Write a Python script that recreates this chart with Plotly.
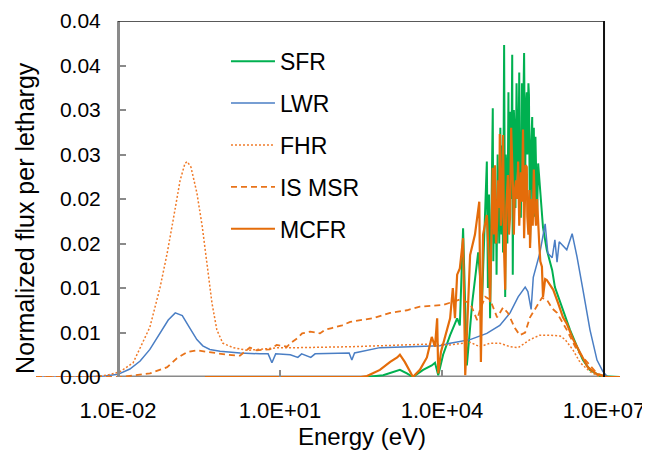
import plotly.graph_objects as go

# log10 of energy (eV) and normalized flux per lethargy
sfr_logE = [-0.39, 2.60, 2.91, 3.22, 3.35, 3.46, 3.65, 3.81, 3.87, 3.93,
            4.02, 4.15, 4.28, 4.33, 4.39, 4.46, 4.56, 4.67, 4.74, 4.83,
            4.85, 4.87, 4.89, 4.92, 4.94, 4.95, 4.97, 4.98, 5.00, 5.01,
            5.03, 5.04, 5.06, 5.08, 5.10, 5.11, 5.13, 5.15, 5.17, 5.18,
            5.20, 5.21, 5.23, 5.24, 5.26, 5.28, 5.30, 5.31, 5.33, 5.35,
            5.36, 5.38, 5.39, 5.41, 5.43, 5.44, 5.46, 5.48, 5.49, 5.51,
            5.52, 5.54, 5.55, 5.57, 5.58, 5.60, 5.61, 5.63, 5.65, 5.67,
            5.68, 5.70, 5.72, 5.73, 5.76, 5.78, 5.81, 5.87, 5.94, 6.04,
            6.09, 6.19, 6.28, 6.37, 6.50, 6.61, 6.74, 6.93, 7.30]
sfr_flux = [0.0000, 0.0000, 0.0002, 0.0008, 0.0004, 0.0000, 0.0008, 0.0013, 0.0016, 0.0002,
            0.0025, 0.0047, 0.0066, 0.0058, 0.0167, 0.0013, 0.0084, 0.0140, 0.0084, 0.0242,
            0.0100, 0.0205, 0.0066, 0.0240, 0.0302, 0.0130, 0.0230, 0.0150, 0.0200, 0.0115,
            0.0250, 0.0216, 0.0150, 0.0280, 0.0160, 0.0260, 0.0140, 0.0373, 0.0090, 0.0250,
            0.0230, 0.0150, 0.0320, 0.0167, 0.0298, 0.0200, 0.0362, 0.0115, 0.0300, 0.0269,
            0.0190, 0.0330, 0.0280, 0.0200, 0.0342, 0.0220, 0.0179, 0.0330, 0.0240, 0.0300,
            0.0364, 0.0210, 0.0300, 0.0320, 0.0250, 0.0330, 0.0317, 0.0150, 0.0260, 0.0292,
            0.0200, 0.0280, 0.0180, 0.0270, 0.0180, 0.0240, 0.0218, 0.0168, 0.0143, 0.0120,
            0.0101, 0.0083, 0.0067, 0.0053, 0.0034, 0.0019, 0.0008, 0.0001, 0.0000]

lwr_logE = [-3.52, -2.70, -2.24, -2.00, -1.78, -1.59, -1.41, -1.22, -1.07, -0.94, -0.81, -0.67, -0.54, -0.43, -0.30,
            -0.11, 0.26, 0.63, 0.78, 0.85, 0.92, 1.19, 1.33, 1.40, 1.57, 1.65, 2.00, 2.28, 2.33, 2.38,
            2.85, 3.41, 3.96, 4.15, 4.52, 4.83, 5.07, 5.26, 5.41, 5.54, 5.59, 5.65, 5.69, 5.81, 5.91,
            5.96, 6.04, 6.09, 6.13, 6.17, 6.31, 6.41, 6.50, 6.61, 6.74, 6.87, 6.98, 7.07, 7.30]
lwr_flux = [0.0000, 0.0000, 0.0001, 0.0003, 0.0009, 0.0018, 0.0031, 0.0049, 0.0064, 0.0072, 0.0069, 0.0055, 0.0042, 0.0035, 0.0031,
            0.0029, 0.0027, 0.0026, 0.0026, 0.0016, 0.0026, 0.0025, 0.0022, 0.0026, 0.0022, 0.0026, 0.0027, 0.0027, 0.0019, 0.0027,
            0.0033, 0.0034, 0.0035, 0.0038, 0.0042, 0.0049, 0.0058, 0.0072, 0.0090, 0.0101, 0.0096, 0.0076, 0.0112, 0.0139, 0.0172,
            0.0139, 0.0134, 0.0154, 0.0129, 0.0152, 0.0143, 0.0161, 0.0135, 0.0098, 0.0053, 0.0019, 0.0006, 0.0000, 0.0000]

fhr_logE = [-3.52, -2.50, -2.20, -1.96, -1.72, -1.41, -1.22, -1.09, -0.98, -0.85, -0.76, -0.72, -0.65, -0.54, -0.44,
            -0.35, -0.26, -0.17, -0.06, 0.13, 0.39, 1.00, 1.37, 2.30, 3.22, 3.78, 4.15, 4.52, 4.70, 4.89,
            5.07, 5.26, 5.41, 5.63, 5.81, 6.00, 6.19, 6.28, 6.43, 6.56, 6.74, 6.93, 7.30]
fhr_flux = [0.0000, 0.0000, 0.0002, 0.0006, 0.0016, 0.0056, 0.0101, 0.0139, 0.0176, 0.0221, 0.0240, 0.0242, 0.0236, 0.0207, 0.0169,
            0.0128, 0.0083, 0.0053, 0.0038, 0.0033, 0.0030, 0.0033, 0.0033, 0.0034, 0.0036, 0.0037, 0.0036, 0.0039, 0.0034, 0.0038,
            0.0038, 0.0034, 0.0033, 0.0042, 0.0047, 0.0047, 0.0046, 0.0042, 0.0030, 0.0016, 0.0006, 0.0000, 0.0000]

msr_logE = [-3.52, -2.50, -1.96, -1.41, -1.09, -0.91, -0.72, -0.54, -0.30, 0.02, 0.26, 0.44, 0.57, 0.81, 0.94,
            1.13, 1.19, 1.33, 1.41, 1.56, 1.74, 1.83, 1.96, 2.15, 2.30, 2.48, 2.72, 3.04, 3.35, 3.59,
            3.91, 4.02, 4.33, 4.52, 4.65, 4.70, 4.80, 4.89, 5.02, 5.13, 5.22, 5.35, 5.44, 5.54, 5.63,
            5.76, 5.85, 5.94, 6.04, 6.13, 6.31, 6.50, 6.69, 6.87, 7.06, 7.30]
msr_flux = [0.0000, 0.0000, 0.0000, 0.0004, 0.0011, 0.0021, 0.0028, 0.0030, 0.0028, 0.0025, 0.0024, 0.0033, 0.0030, 0.0031, 0.0036,
            0.0034, 0.0038, 0.0044, 0.0049, 0.0051, 0.0049, 0.0053, 0.0055, 0.0058, 0.0062, 0.0064, 0.0066, 0.0072, 0.0075, 0.0079,
            0.0081, 0.0081, 0.0087, 0.0083, 0.0064, 0.0075, 0.0090, 0.0087, 0.0067, 0.0078, 0.0072, 0.0055, 0.0047, 0.0050, 0.0067,
            0.0081, 0.0089, 0.0087, 0.0077, 0.0072, 0.0053, 0.0030, 0.0016, 0.0004, 0.0000, 0.0000]

mcfr_logE = [-0.39, 2.50, 2.61, 2.85, 3.04, 3.17, 3.22, 3.31, 3.41, 3.46,
             3.59, 3.72, 3.81, 3.87, 3.91, 3.93, 3.98, 4.06, 4.15, 4.20,
             4.24, 4.28, 4.33, 4.39, 4.43, 4.46, 4.52, 4.61, 4.69, 4.72,
             4.76, 4.83, 4.87, 4.89, 4.94, 4.96, 4.98, 5.00, 5.02, 5.04,
             5.06, 5.07, 5.09, 5.10, 5.12, 5.13, 5.15, 5.17, 5.19, 5.20,
             5.22, 5.24, 5.26, 5.28, 5.30, 5.32, 5.33, 5.35, 5.37, 5.39,
             5.41, 5.43, 5.44, 5.46, 5.48, 5.50, 5.52, 5.54, 5.55, 5.57,
             5.58, 5.60, 5.62, 5.63, 5.66, 5.68, 5.70, 5.72, 5.74, 5.76,
             5.78, 5.80, 5.82, 5.85, 5.87, 5.91, 5.94, 6.06, 6.15, 6.24,
             6.31, 6.43, 6.56, 6.70, 6.87, 7.06, 7.30]
mcfr_flux = [0.0000, 0.0000, 0.0001, 0.0008, 0.0017, 0.0022, 0.0025, 0.0017, 0.0006, 0.0000,
             0.0008, 0.0022, 0.0045, 0.0034, 0.0066, 0.0004, 0.0028, 0.0047, 0.0066, 0.0100,
             0.0066, 0.0115, 0.0122, 0.0156, 0.0002, 0.0047, 0.0137, 0.0160, 0.0197, 0.0017,
             0.0160, 0.0182, 0.0130, 0.0084, 0.0235, 0.0160, 0.0238, 0.0150, 0.0174, 0.0221,
             0.0190, 0.0273, 0.0170, 0.0180, 0.0240, 0.0272, 0.0140, 0.0098, 0.0190, 0.0200,
             0.0227, 0.0160, 0.0180, 0.0280, 0.0250, 0.0200, 0.0160, 0.0210, 0.0221, 0.0200,
             0.0242, 0.0170, 0.0190, 0.0230, 0.0197, 0.0278, 0.0156, 0.0220, 0.0238, 0.0236,
             0.0180, 0.0160, 0.0210, 0.0145, 0.0200, 0.0170, 0.0233, 0.0190, 0.0170, 0.0200,
             0.0162, 0.0150, 0.0130, 0.0124, 0.0090, 0.0110, 0.0109, 0.0098, 0.0083, 0.0067,
             0.0060, 0.0042, 0.0027, 0.0011, 0.0003, 0.0000, 0.0000]

x_tickvals = [1e-2, 1e1, 1e4, 1e7]
x_ticktext = ["1.0E-02", "1.0E+01", "1.0E+04", "1.0E+07"]
y_tickvals = [0, 0.005, 0.01, 0.015, 0.02, 0.025, 0.03, 0.035, 0.04]
y_ticktext = ["0.00", "0.01", "0.01", "0.02", "0.02", "0.03", "0.03", "0.04", "0.04"]

series = [
    ("SFR", sfr_logE, sfr_flux, dict(color="#00B050", width=2)),
    ("LWR", lwr_logE, lwr_flux, dict(color="#4A7EC4", width=1.5)),
    ("FHR", fhr_logE, fhr_flux, dict(color="#F07A28", width=1.5, dash="2px,2px")),
    ("IS MSR", msr_logE, msr_flux, dict(color="#E8731A", width=1.8, dash="6px,4px")),
    ("MCFR", mcfr_logE, mcfr_flux, dict(color="#E46C0A", width=2.2)),
]

fig = go.Figure()
for name, le, fl, line in series:
    assert len(le) == len(fl), name
    fig.add_trace(go.Scatter(
        x=[10 ** v for v in le], y=fl, mode="lines", name=name,
        line=line, legendgroup=name,
    ))

axis_grey = "#8a8a8a"
x_lo, x_hi = -3.519, 7.296  # curves run past the framed area on both sides

# page body has an 8px margin, so the figure is drawn 8px smaller and shifted
fig.update_layout(
    width=642, height=446,
    margin=dict(l=28, r=30, t=13, b=77, autoexpand=False),
    paper_bgcolor="white", plot_bgcolor="white",
    font=dict(family="Liberation Sans, Arial, sans-serif", color="black"),
    legend=dict(x=0.3253, y=0.9475, xanchor="left", yanchor="top", itemwidth=44,
                font=dict(size=23), tracegroupgap=9, bgcolor="rgba(0,0,0,0)"),
    xaxis=dict(type="log", range=[x_lo, x_hi], tickvals=x_tickvals, ticktext=x_ticktext,
               ticks="inside", ticklen=7, tickwidth=2, tickcolor=axis_grey,
               showline=False, showgrid=False, zeroline=False, automargin=False,
               tickfont=dict(size=22), ticklabelstandoff=18),
    yaxis=dict(range=[0, 0.04], anchor="free", position=(118 - 36) / 584,
               tickvals=y_tickvals, ticktext=y_ticktext,
               ticks="inside", ticklen=6, tickwidth=1.5, tickcolor=axis_grey,
               showline=True, linecolor=axis_grey, linewidth=3,
               showgrid=False, zeroline=False, automargin=False,
               tickfont=dict(size=21), ticklabelstandoff=12),
    annotations=[
        dict(text="Normalized flux per lethargy", xref="paper", yref="paper",
             x=-0.0188, y=0.447, textangle=-90, showarrow=False,
             font=dict(size=25), xanchor="center", yanchor="middle"),
        dict(text="Energy (eV)", xref="paper", yref="paper", x=0.558, y=-0.1685,
             showarrow=False, font=dict(size=24), xanchor="center", yanchor="middle"),
    ],
    shapes=[
        dict(type="line", xref="x", yref="y", x0=1e-2, x1=1e7, y0=0, y1=0,
             line=dict(color=axis_grey, width=3), layer="below"),
        dict(type="line", xref="x", yref="y", x0=1e-2, x1=1e7, y0=0.04, y1=0.04,
             line=dict(color="#222222", width=1.5)),
        dict(type="line", xref="x", yref="y", x0=1e7, x1=1e7, y0=0, y1=0.04,
             line=dict(color="#111111", width=2)),
    ],
)

fig.write_html("out.html")
